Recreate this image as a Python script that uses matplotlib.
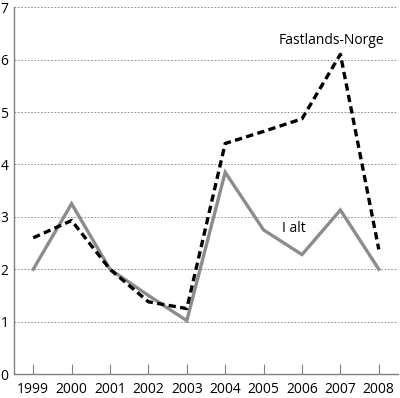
import matplotlib.pyplot as plt

years = [1999, 2000, 2001, 2002, 2003, 2004, 2005, 2006, 2007, 2008]
fastlands = [2.6, 2.93, 2.0, 1.38, 1.25, 4.4, 4.63, 4.87, 6.1, 2.38]
i_alt = [2.0, 3.25, 2.0, 1.5, 1.02, 3.85, 2.75, 2.28, 3.13, 2.0]

plt.rcParams["font.family"] = ["Open Sans", "DejaVu Sans"]

fig = plt.figure(figsize=(4.0, 3.98), dpi=100)
ax = fig.add_axes([0.035, 0.06, 0.96, 0.922])

ax.plot(years, i_alt, color="#8c8c8c", linewidth=2.4, solid_joinstyle="miter")
ax.plot(years, fastlands, color="black", linewidth=2.4, linestyle=(0, (2.2, 1.3)))

ax.text(2006.76, 6.37, "Fastlands-Norge", ha="center", va="center", fontsize=10)
ax.text(2005.8, 2.77, "I alt", ha="center", va="center", fontsize=10)

ax.set_xlim(1998.5, 2008.5)
ax.set_ylim(0, 7)
ax.set_xticks(years)
ax.set_yticks(range(0, 8))
ax.yaxis.grid(True, linestyle=(0, (2, 2)), color="#808080", linewidth=0.6)
ax.set_axisbelow(True)

for s in ["top", "right"]:
    ax.spines[s].set_visible(False)
ax.spines["left"].set_color("#808080")
ax.spines["bottom"].set_color("#808080")
ax.spines["left"].set_linewidth(1.0)
ax.spines["bottom"].set_linewidth(1.0)

ax.tick_params(axis="x", direction="in", length=7, color="#808080", labelsize=10, pad=6)
ax.tick_params(axis="y", length=0, labelsize=10, pad=4)

fig.savefig("out.png", dpi=100)
